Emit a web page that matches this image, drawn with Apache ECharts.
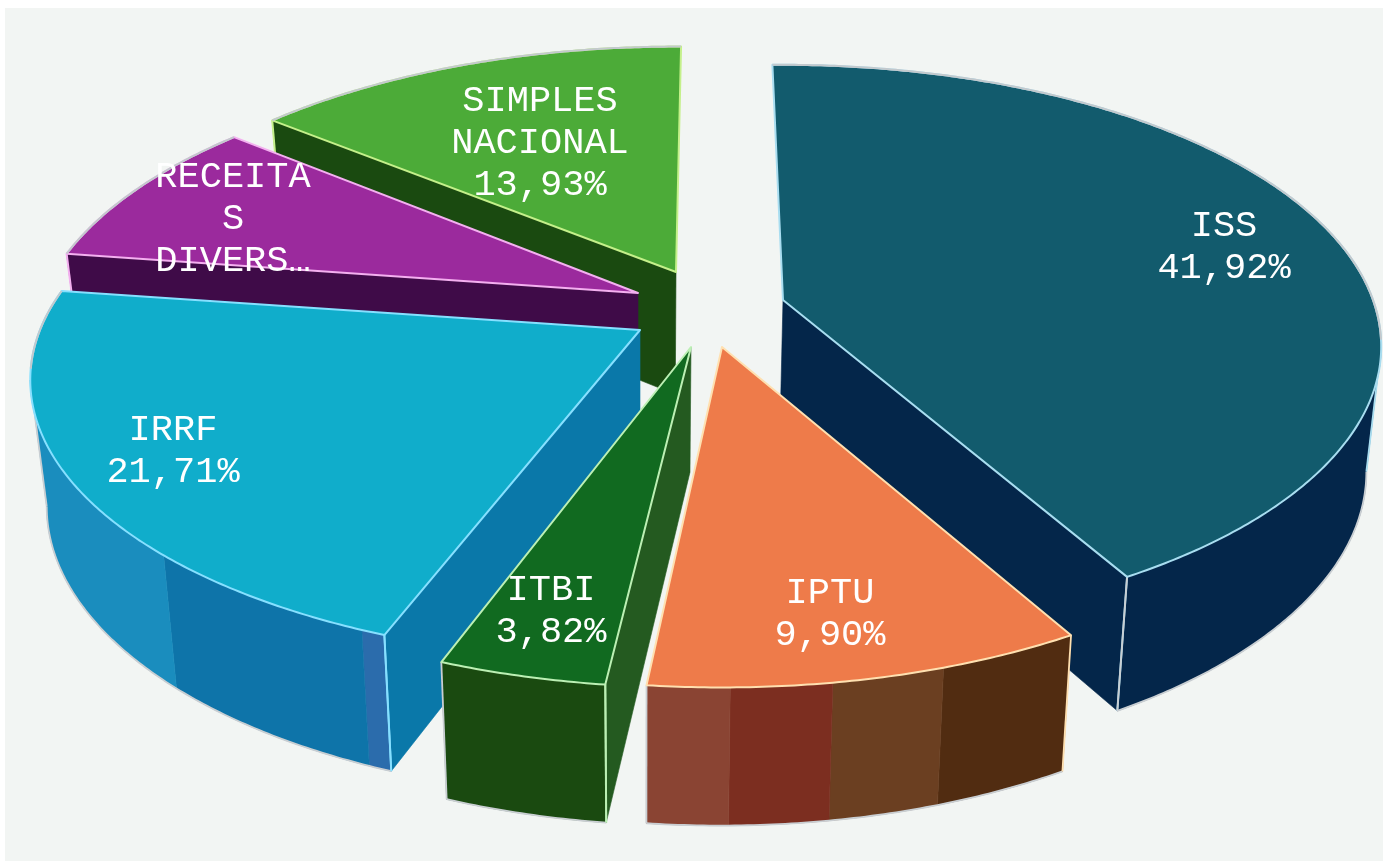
<!DOCTYPE html>
<html>
<head>
<meta charset="utf-8">
<title>Receitas</title>
<script src="https://cdn.jsdelivr.net/npm/echarts@6/dist/echarts.min.js"></script>
<style>
html, body { margin: 0; padding: 0; background: #fff; }
#main { width: 1383px; height: 863px; }
</style>
</head>
<body>
<div id="main"></div>
<script>
// data
var categories = ['ISS', 'IPTU', 'ITBI', 'IRRF', 'RECEITAS DIVERSAS', 'SIMPLES NACIONAL'];
var values = [41.92, 9.90, 3.82, 21.71, 8.72, 13.93];
var labels = ['ISS\n41,92%', 'IPTU\n9,90%', 'ITBI\n3,82%', 'IRRF\n21,71%', 'RECEITA\nS\nDIVERS…', 'SIMPLES\nNACIONAL\n13,93%'];

// layout of the exploded slices (screen px)
var apexes = [[783, 300], [722, 347], [691, 347], [640, 330], [638, 293], [676, 272]];
var radiusX = [590, 590, 590, 600, 595, 590];
var radiusY = [274, 271, 271, 272, 275, 275];
var persp = [0.165, 0.204, 0.204, 0.178, 0.204, 0.22];
var labelPos = [[1224, 247], [830, 614], [551, 611], [173, 451], [233, 219], [540, 143]];
var edgeTilt = [[-1.2, -0.9], [0, -0.7], [0.1, -0.3], [0.5, 0], [0, 0], [-1, 0.6]];
var drawRank = [2, 4, 5, 3, 1, 0];

// colours
var topColors = ['#125B6D', '#EE7B4A', '#116A20', '#10ADCB', '#9B2A9D', '#4CAB38'];
var sideColors = ['#04264A', '#7C2E20', '#245A20', '#0A78A9', '#3F0B48', '#1A4A10'];
var edgeColors = ['#A8DDF0', '#FFE0B0', '#BCF0B4', '#86E0FF', '#F4B0F0', '#C4F08A'];
// outer wall bands, walked right to left: [x where the band stops, colour]
var wallBands = [
    [[-9999, '#04264A']],
    [[945, '#512C11'], [838, '#6B3F21'], [732, '#7C2E20'], [-9999, '#8A4433']],
    [[-9999, '#1A4A10']],
    [[365, '#2B6CAC'], [165, '#0E74A9'], [-9999, '#1A8DBE']],
    [[-9999, '#3F0B48']],
    [[-9999, '#1A4A10']]
];

var total = values.reduce(function (a, b) { return a + b; }, 0);

function top3d(i, deg) {
    var t = deg * Math.PI / 180;
    var u = Math.sin(t), v = -Math.cos(t);
    var w = 1 - persp[i] * v;
    return [apexes[i][0] + radiusX[i] * u / w, apexes[i][1] + radiusY[i] * v / w];
}
// the base lies lower and pulled slightly towards the middle
function drop(p) {
    var k = p[0] > 640 ? 0.02 : 0.027;
    return [p[0] - k * (p[0] - 640), p[1] + 112 + 0.038 * p[1]];
}
function arc(i, a, b) {
    var pts = [];
    var n = Math.max(2, Math.ceil(Math.abs(b - a) * 2));
    for (var k = 0; k <= n; k++) {
        pts.push(top3d(i, a + (b - a) * k / n));
    }
    return pts;
}
function wall(topPts) {
    var base = topPts.map(drop).reverse();
    return topPts.concat(base);
}
function poly(points, fill, z2, stroke, lw) {
    return {
        type: 'polygon',
        z2: z2,
        silent: true,
        shape: { points: points },
        style: { fill: fill, stroke: stroke || fill, lineWidth: lw === undefined ? 0.6 : lw, lineJoin: 'round' }
    };
}
function line(points, color, z2, lw) {
    return {
        type: 'polyline',
        z2: z2,
        silent: true,
        shape: { points: points },
        style: { fill: null, stroke: color, lineWidth: lw, lineJoin: 'round' }
    };
}
// near vertical cut edges only show a sliver, leave those out
function radialVisible(a, b, m) {
    var c = (b[0] - a[0]) * (m[1] - a[1]) - (b[1] - a[1]) * (m[0] - a[0]);
    return Math.abs(b[0] - a[0]) > 30 && c * (b[0] - a[0]) < 0;
}

function renderSlice(params, api) {
    var i = params.dataIndex;
    var before = 0;
    for (var k = 0; k < i; k++) before += values[k];
    var t0 = before / total * 360 + edgeTilt[i][0];
    var t1 = (before + api.value(1)) / total * 360 + edgeTilt[i][1];
    var z = drawRank[i] * 10;
    var apex = apexes[i];
    var children = [];
    var rim = arc(i, t0, t1);
    var pStart = rim[0], pEnd = rim[rim.length - 1], pMid = top3d(i, (t0 + t1) / 2);

    // side walls along the two cut edges
    [pStart, pEnd].forEach(function (p) {
        if (radialVisible(apex, p, pMid)) {
            children.push(poly(wall([apex, p]), sideColors[i], z + 1));
            children.push(line([p, drop(p)], edgeColors[i], z + 4, 2));
        }
    });

    // round wall, front part only, cut into bands
    var limit = Math.acos(persp[i]) * 180 / Math.PI;
    var w0 = Math.max(t0, 180 - limit), w1 = Math.min(t1, 180 + limit);
    if (w1 > w0) {
        var wallTop = arc(i, w0, w1);
        var from = 0;
        wallBands[i].forEach(function (band) {
            var to = from;
            while (to < wallTop.length - 1 && wallTop[to][0] > band[0]) to++;
            if (to > from) {
                children.push(poly(wall(wallTop.slice(from, to + 1)), band[1], z + 2));
                from = to;
            }
        });
        var last = wallTop[wallTop.length - 1];
        children.push(line(wallTop.map(drop), '#C9CED2', z + 4, 1.8));
        children.push(line([wallTop[0], drop(wallTop[0])], edgeColors[i], z + 4, 1.8));
        children.push(line([last, drop(last)], '#C9CED2', z + 4, 1.8));
    }

    // top face, back of the rim gets the grey line
    children.push(poly([apex].concat(rim), topColors[i], z + 5, edgeColors[i], 2));
    var backRim = rim.filter(function (p) { return p[1] < apex[1] + 40; });
    if (backRim.length > 1) {
        children.push(line(backRim, '#C3C9CD', z + 6, 2));
    }

    children.push({
        type: 'text',
        z2: 100,
        silent: true,
        style: {
            text: labels[i],
            x: labelPos[i][0],
            y: labelPos[i][1],
            fill: '#FFFFFF',
            font: '37px "Liberation Mono", monospace',
            lineHeight: 42,
            align: 'center',
            verticalAlign: 'middle'
        }
    });
    return { type: 'group', children: children };
}

var myChart = echarts.init(document.getElementById('main'), null, { renderer: 'canvas' });
var option = {
    animation: false,
    graphic: [{
        type: 'rect',
        z: -1,
        silent: true,
        shape: { x: 5, y: 8, width: 1378, height: 853 },
        style: { fill: '#F2F5F3' }
    }],
    series: [{
        type: 'custom',
        coordinateSystem: 'none',
        renderItem: renderSlice,
        data: values.map(function (v, i) { return { name: categories[i], value: [i, v] }; })
    }]
};
option && myChart.setOption(option);
</script>
</body>
</html>
